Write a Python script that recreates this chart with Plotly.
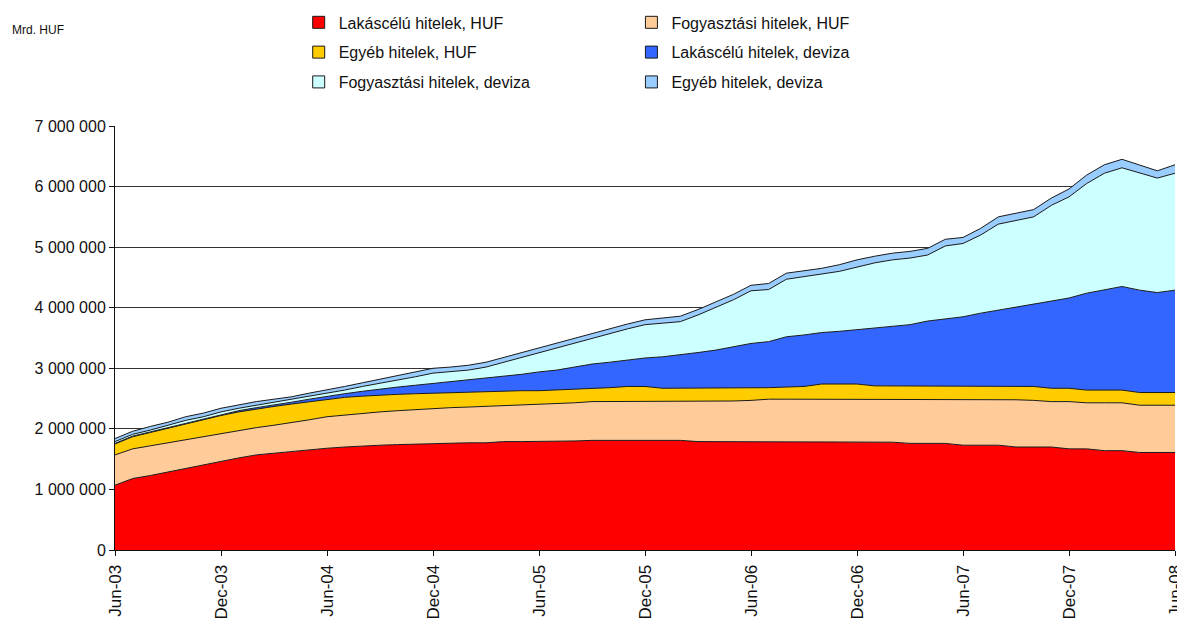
import pandas as pd
import plotly.graph_objects as go

# Months (Jun-03 .. Jun-08), monthly
months = pd.date_range("2003-06-01", "2008-06-01", freq="MS").strftime("%b-%y").tolist()
tick_labels = ["Jun-03", "Dec-03", "Jun-04", "Dec-04", "Jun-05", "Dec-05",
               "Jun-06", "Dec-06", "Jun-07", "Dec-07", "Jun-08"]

UNIT = 1_000_000  # values below are in millions of the axis unit

lakas_huf = [1.07, 1.18, 1.23, 1.29, 1.35, 1.40, 1.46, 1.52, 1.57, 1.60,
             1.63, 1.66, 1.68, 1.70, 1.72, 1.73, 1.74, 1.75, 1.76, 1.76,
             1.77, 1.77, 1.79, 1.79, 1.79, 1.79, 1.80, 1.81, 1.81, 1.82,
             1.82, 1.81, 1.81, 1.79, 1.79, 1.79, 1.78, 1.78, 1.78, 1.78,
             1.78, 1.78, 1.78, 1.78, 1.78, 1.76, 1.76, 1.76, 1.73, 1.73,
             1.73, 1.70, 1.70, 1.70, 1.67, 1.67, 1.64, 1.64, 1.61, 1.61, 1.61]
fogy_huf = [0.50, 0.49, 0.49, 0.48, 0.48, 0.47, 0.46, 0.45, 0.45, 0.46,
            0.47, 0.49, 0.52, 0.53, 0.54, 0.55, 0.56, 0.57, 0.58, 0.59,
            0.59, 0.60, 0.60, 0.60, 0.61, 0.63, 0.63, 0.64, 0.64, 0.63,
            0.63, 0.64, 0.64, 0.66, 0.66, 0.67, 0.69, 0.71, 0.71, 0.71,
            0.71, 0.71, 0.71, 0.71, 0.71, 0.73, 0.73, 0.73, 0.76, 0.76,
            0.75, 0.78, 0.77, 0.75, 0.78, 0.76, 0.79, 0.79, 0.78, 0.78, 0.78]
egyeb_huf = [0.18, 0.20, 0.22, 0.24, 0.26, 0.28, 0.30, 0.31, 0.31, 0.31,
             0.31, 0.30, 0.29, 0.29, 0.28, 0.28, 0.27, 0.26, 0.25, 0.25,
             0.24, 0.24, 0.23, 0.24, 0.23, 0.22, 0.23, 0.22, 0.23, 0.25,
             0.25, 0.22, 0.22, 0.22, 0.22, 0.21, 0.20, 0.19, 0.20, 0.21,
             0.25, 0.25, 0.25, 0.22, 0.22, 0.22, 0.22, 0.22, 0.22, 0.22,
             0.22, 0.22, 0.23, 0.22, 0.22, 0.21, 0.21, 0.21, 0.21, 0.21, 0.21]
lakas_dev = [0.01, 0.01, 0.01, 0.01, 0.01, 0.01, 0.02, 0.02, 0.02, 0.02,
             0.03, 0.04, 0.05, 0.06, 0.08, 0.10, 0.12, 0.14, 0.16, 0.17,
             0.20, 0.23, 0.25, 0.27, 0.31, 0.33, 0.36, 0.40, 0.42, 0.44,
             0.47, 0.52, 0.55, 0.59, 0.63, 0.69, 0.74, 0.76, 0.83, 0.85,
             0.85, 0.87, 0.90, 0.96, 0.99, 1.01, 1.07, 1.11, 1.14, 1.20,
             1.26, 1.31, 1.35, 1.43, 1.49, 1.60, 1.65, 1.71, 1.69, 1.65, 1.69]
fogy_dev = [0.03, 0.03, 0.03, 0.04, 0.04, 0.04, 0.04, 0.04, 0.04, 0.05,
            0.04, 0.05, 0.05, 0.06, 0.08, 0.09, 0.11, 0.14, 0.17, 0.17,
            0.17, 0.18, 0.23, 0.28, 0.31, 0.37, 0.40, 0.43, 0.47, 0.51,
            0.55, 0.55, 0.55, 0.62, 0.71, 0.77, 0.87, 0.86, 0.95, 0.96,
            0.96, 0.99, 1.03, 1.07, 1.09, 1.10, 1.09, 1.20, 1.21, 1.29,
            1.42, 1.43, 1.45, 1.59, 1.67, 1.81, 1.93, 1.96, 1.93, 1.89, 1.93]
egyeb_dev = [0.05, 0.05, 0.06, 0.05, 0.06, 0.06, 0.06, 0.06, 0.06, 0.05,
             0.05, 0.05, 0.05, 0.06, 0.06, 0.07, 0.08, 0.07, 0.08, 0.08,
             0.08, 0.08, 0.08, 0.08, 0.08, 0.08, 0.08, 0.08, 0.08, 0.08,
             0.08, 0.09, 0.09, 0.09, 0.09, 0.09, 0.09, 0.10, 0.10, 0.10,
             0.10, 0.11, 0.12, 0.11, 0.11, 0.11, 0.11, 0.11, 0.10, 0.11,
             0.12, 0.12, 0.12, 0.12, 0.13, 0.14, 0.14, 0.14, 0.14, 0.12, 0.14]

series = [
    ("Lakáscélú hitelek, HUF", lakas_huf, "#FF0000", "legend"),
    ("Fogyasztási hitelek, HUF", fogy_huf, "#FFCC99", "legend2"),
    ("Egyéb hitelek, HUF", egyeb_huf, "#FFCC00", "legend"),
    ("Lakáscélú hitelek, deviza", lakas_dev, "#3366FF", "legend2"),
    ("Fogyasztási hitelek, deviza", fogy_dev, "#CCFFFF", "legend"),
    ("Egyéb hitelek, deviza", egyeb_dev, "#99CCFF", "legend2"),
]

EDGE = "#1a1a1a"
FONT = "Liberation Sans, Arial, sans-serif"

fig = go.Figure()
for name, vals, color, _ in series:
    fig.add_trace(go.Scatter(
        x=months, y=[v * UNIT for v in vals], name=name,
        stackgroup="one", mode="lines", fillcolor=color,
        line=dict(color=EDGE, width=1), showlegend=False,
    ))

# legend entries (square swatches)
for k, (name, vals, color, leg) in enumerate(series):
    fig.add_trace(go.Scatter(
        x=[None], y=[None], name=name, mode="markers",
        marker=dict(symbol="square", size=12, color=color,
                    line=dict(color=EDGE, width=1)),
        legend=leg, legendgroup=f"g{k}", showlegend=True,
    ))

legend_common = dict(
    orientation="v", yanchor="top", xanchor="left",
    bgcolor="rgba(0,0,0,0)", borderwidth=0,
    font=dict(family=FONT, size=16, color="#111"),
    tracegroupgap=6, itemclick=False, itemdoubleclick=False,
)

# the page body adds an 8px offset, so the figure is sized to fit the window
fig.update_layout(
    width=1177, height=614,
    margin=dict(l=107, r=10, t=118, b=72, autoexpand=False),
    paper_bgcolor="white", plot_bgcolor="white",
    separators=". ",
    font=dict(family=FONT, color="#111"),
    legend=dict(x=0.1733, y=1.2844, **legend_common),
    legend2=dict(x=0.4872, y=1.2844, **legend_common),
    xaxis=dict(
        type="category", range=[0, 60], automargin=False,
        tickmode="array", tickvals=tick_labels, ticktext=tick_labels,
        tickangle=-90, tickfont=dict(family=FONT, size=17, color="#111"),
        ticklabelstandoff=2,
        showline=True, linecolor="#111", linewidth=1,
        ticks="outside", ticklen=5, tickcolor="#111",
        showgrid=False, zeroline=False,
    ),
    yaxis=dict(
        range=[0, 7 * UNIT], dtick=UNIT, tickformat=",d", automargin=False,
        tickfont=dict(family=FONT, size=16, color="#111"),
        showline=True, linecolor="#111", linewidth=1,
        ticks="outside", ticklen=5, tickcolor="#111",
        showgrid=True, gridcolor="#333", gridwidth=1.3,
        zeroline=False,
    ),
    annotations=[dict(
        text="Mrd. HUF", xref="paper", yref="paper",
        x=-0.0991, y=1.2264, xanchor="left", yanchor="middle",
        showarrow=False, font=dict(family=FONT, size=12, color="#111"),
    )],
)

fig.write_html("out.html")
